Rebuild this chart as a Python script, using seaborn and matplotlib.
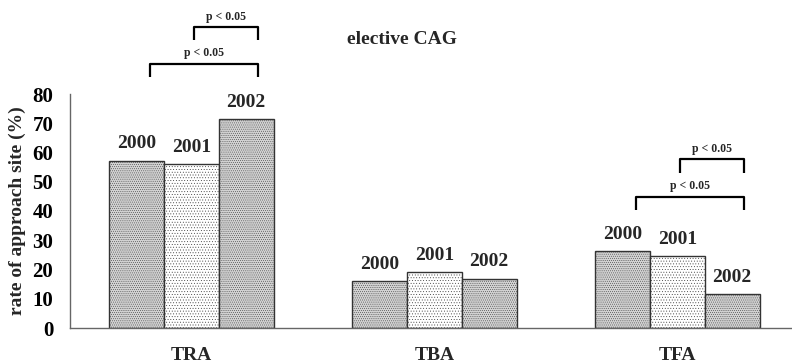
import matplotlib
matplotlib.use("Agg")
import matplotlib.pyplot as plt
import seaborn as sns
import pandas as pd

sites = ["TRA", "TBA", "TFA"]
years = ["2000", "2001", "2002"]
rate_2000 = [57.2, 16.1, 26.3]
rate_2001 = [56.0, 19.2, 24.6]
rate_2002 = [71.3, 16.9, 11.6]

# significance brackets: (site index, left offset, right offset, y, text)
brackets = [
    (0, -0.171, 0.274, 90.3, "p < 0.05"),
    (0, 0.012, 0.274, 102.9, "p < 0.05"),
    (2, -0.171, 0.274, 44.9, "p < 0.05"),
    (2, 0.012, 0.274, 57.7, "p < 0.05"),
]
bracket_leg = 4.6

sns.set_theme(style="white")
plt.rcParams["font.family"] = ["Liberation Serif", "DejaVu Serif"]
plt.rcParams["font.weight"] = "bold"
plt.rcParams["hatch.linewidth"] = 0.3

rows = []
for yr, vals in zip(years, [rate_2000, rate_2001, rate_2002]):
    for s, v in zip(sites, vals):
        rows.append({"site": s, "year": yr, "rate": v})
df = pd.DataFrame(rows)

fig = plt.figure(figsize=(7.92, 3.63), dpi=100)
ax = fig.add_axes([70 / 792, 35 / 363, 729 / 792, 234 / 363])

face = {"2000": "#d2d2d2", "2001": "#ffffff", "2002": "#d2d2d2"}
hatch = {"2000": "........", "2001": "......", "2002": "........"}
sns.barplot(data=df, x="site", y="rate", hue="year", hue_order=years,
            order=sites, width=0.675, palette=face, edgecolor="#333333",
            linewidth=1.0, legend=False, ax=ax, saturation=1)

for cont, yr in zip(ax.containers, years):
    for bar in cont:
        bar.set_hatch(hatch[yr])
    ax.bar_label(cont, labels=[yr] * len(sites), padding=6,
                 fontsize=14, fontweight="bold")

ax.set_xlim(-0.5, 2.5)
ax.set_ylim(0, 80)
ax.set_yticks(range(0, 81, 10))
ax.tick_params(axis="y", direction="in", length=5, width=0.8, pad=12,
               labelsize=15, colors="black")
ax.tick_params(axis="x", which="major", length=0, pad=14, labelsize=14)
ax.set_xticks([0.5, 1.5], minor=True)
ax.tick_params(axis="x", which="minor", direction="in", length=5,
               width=0.8, color="#777777")
ax.set_xlabel("")
ax.set_ylabel("rate of approach site (%)", fontsize=14, fontweight="bold",
              labelpad=5)
for lab in ax.get_xticklabels() + ax.get_yticklabels():
    lab.set_fontweight("bold")

for side in ["top", "right"]:
    ax.spines[side].set_visible(False)
for side in ["left", "bottom"]:
    ax.spines[side].set_color("#666666")
    ax.spines[side].set_linewidth(1.0)
ax.tick_params(axis="y", color="#666666")

for idx, lo, hi, y, txt in brackets:
    x0, x1 = idx + lo, idx + hi
    ax.plot([x0, x0, x1, x1], [y - bracket_leg, y, y, y - bracket_leg],
            color="black", lw=1.6, clip_on=False, solid_capstyle="butt")
    ax.text((x0 + x1) / 2, y + 1.5, txt, ha="center", va="bottom",
            fontsize=8.5, fontweight="bold", clip_on=False)

fig.text(402 / 792, 1 - 40 / 363, "elective CAG", ha="center", va="center",
         fontsize=14, fontweight="bold")

fig.savefig("out.png", dpi=100)
